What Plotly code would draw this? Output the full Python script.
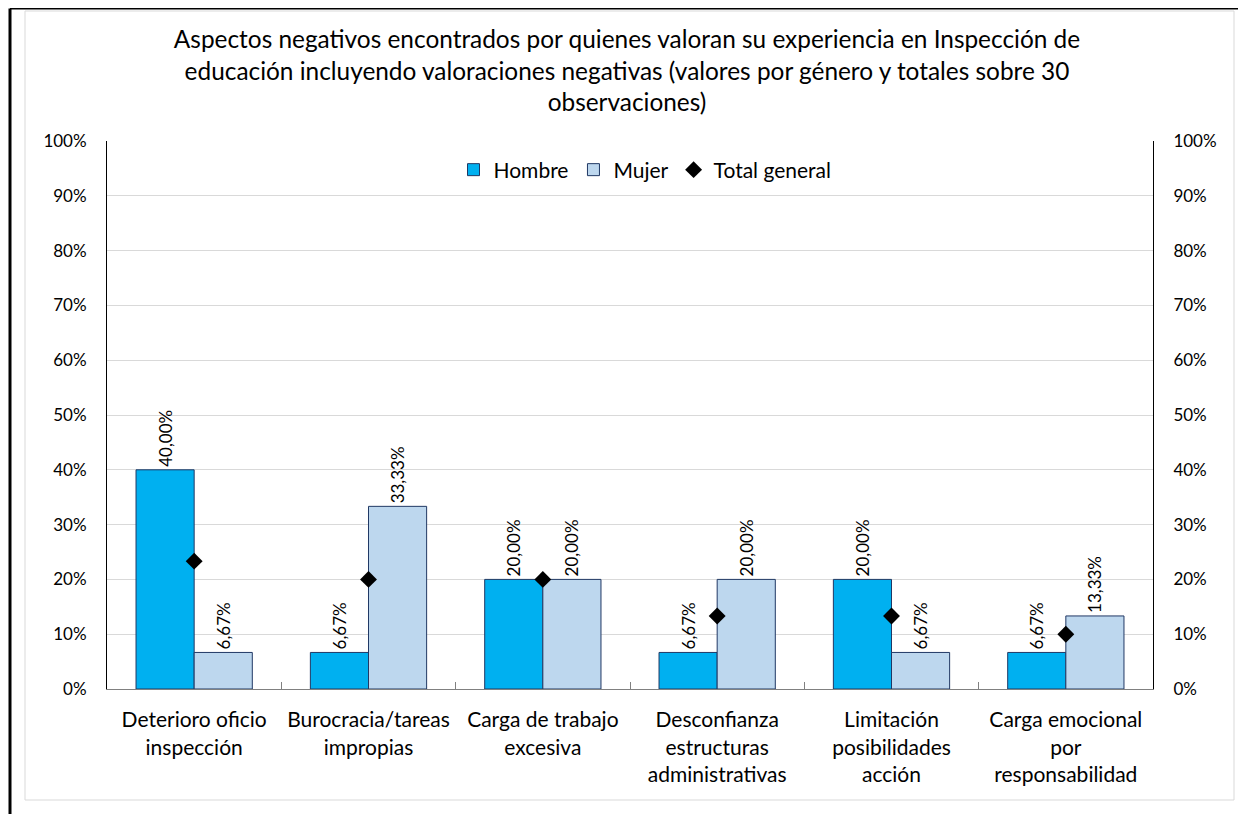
import plotly.graph_objects as go

categories = ["Deterioro oficio<br>inspección", "Burocracia/tareas<br>impropias",
              "Carga de trabajo<br>excesiva", "Desconfianza<br>estructuras<br>administrativas",
              "Limitación<br>posibilidades<br>acción", "Carga emocional<br>por<br>responsabilidad"]
hombre = [0.40, 0.0667, 0.20, 0.0667, 0.20, 0.0667]
mujer = [0.0667, 0.3333, 0.20, 0.20, 0.0667, 0.1333]
total = [0.2333, 0.20, 0.20, 0.1333, 0.1333, 0.10]
tick_vals = [0, 0.1, 0.2, 0.3, 0.4, 0.5, 0.6, 0.7, 0.8, 0.9, 1.0]

FONT = "Lato"
OFF = 8  # default body margin of the html page
PW, PH = 1246, 814
W, H = PW - OFF, PH - OFF
# plot area in page pixels
L, R, T, B = 107, 1153, 141, 689

def px(x):
    return (x - L) / (R - L)

def py(y):
    return (B - y) / (B - T)

fig = go.Figure()
fig.add_trace(go.Bar(name="Hombre", x=categories, y=hombre,
                     marker=dict(color="#00B0F0", line=dict(color="#203864", width=1)),
                     texttemplate="%{y:.2%}", textposition="outside", textangle=-90,
                     textfont=dict(size=17, color="#000000"), cliponaxis=False))
fig.add_trace(go.Bar(name="Mujer", x=categories, y=mujer,
                     marker=dict(color="#BDD7EE", line=dict(color="#203864", width=1)),
                     texttemplate="%{y:.2%}", textposition="outside", textangle=-90,
                     textfont=dict(size=17, color="#000000"), cliponaxis=False))
fig.add_trace(go.Scatter(name="Total general", x=categories, y=total, mode="markers",
                         marker=dict(symbol="diamond", size=13, color="#000000"),
                         yaxis="y2", cliponaxis=False))

shapes = [
    dict(type="rect", xref="paper", yref="paper", x0=px(25), x1=px(1234), y0=py(800), y1=py(11),
         line=dict(color="#D9D9D9", width=1), layer="below"),
    dict(type="line", xref="paper", yref="paper", x0=px(10), x1=px(10), y0=py(8.5), y1=py(814),
         line=dict(color="#000000", width=3)),
    dict(type="line", xref="paper", yref="paper", x0=px(10), x1=px(1246), y0=py(8.6), y1=py(8.6),
         line=dict(color="#000000", width=2)),
]

fig.update_layout(
    width=W, height=H,
    margin=dict(l=L - OFF, r=PW - R, t=T - OFF, b=PH - B),
    paper_bgcolor="white", plot_bgcolor="white",
    separators=",.",
    font=dict(family=FONT, color="#000000"),
    title=dict(text="Aspectos negativos encontrados por quienes valoran su experiencia en Inspección de<br>"
                    "educación incluyendo valoraciones negativas (valores por género y totales sobre 30<br>"
                    "observaciones)",
               x=0.5, xanchor="center", y=1 - (48 - OFF) / H, yanchor="middle",
               font=dict(size=24.4, family=FONT)),
    barmode="group", bargap=0.333, bargroupgap=0,
    legend=dict(orientation="h", x=px(645), xanchor="center", y=py(170), yanchor="middle",
                font=dict(size=21), bgcolor="rgba(0,0,0,0)", traceorder="normal",
                itemwidth=30, entrywidthmode="pixels"),
    xaxis=dict(showline=True, linecolor="#808080", linewidth=1, ticks="inside", tickson="boundaries",
               ticklen=7, tickcolor="#808080", tickfont=dict(size=21), showgrid=False,
               ticklabelstandoff=12),
    yaxis=dict(range=[0, 1], tickvals=tick_vals, tickformat=".0%", showline=True, linecolor="#000000",
               linewidth=1, showgrid=True, gridcolor="#D9D9D9", gridwidth=1, tickfont=dict(size=17),
               ticks="", zeroline=False, ticklabelstandoff=16),
    yaxis2=dict(range=[0, 1], tickvals=tick_vals, tickformat=".0%", overlaying="y", side="right",
                showline=True, linecolor="#000000", linewidth=1, showgrid=False, tickfont=dict(size=17),
                ticks="", zeroline=False, ticklabelstandoff=16),
    shapes=shapes,
)

fig.write_html("out.html")
